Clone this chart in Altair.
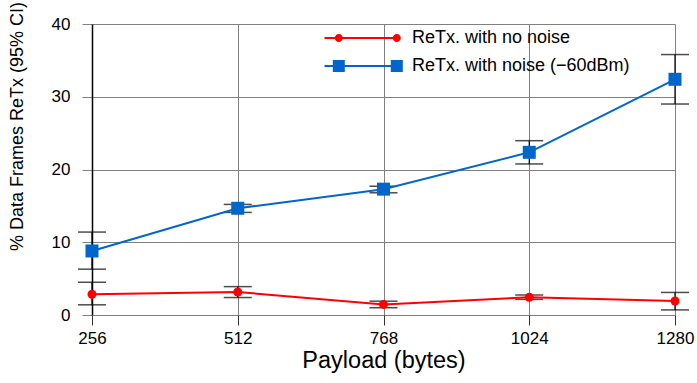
import altair as alt
import pandas as pd

payload = [256, 512, 768, 1024, 1280]
series_names = ["ReTx. with no noise", "ReTx. with noise (\u221260dBm)"]

no_noise = [2.85, 3.16, 1.46, 2.43, 1.92]
no_noise_lo = [1.4, 2.4, 1.0, 2.15, 0.7]
no_noise_hi = [4.5, 3.9, 1.9, 2.75, 3.1]

noise = [8.8, 14.67, 17.3, 22.36, 32.4]
noise_lo = [6.3, 14.1, 16.8, 20.76, 29.0]
noise_hi = [11.4, 15.2, 17.7, 23.96, 35.8]

RED = "#ff0000"
BLUE = "#0066cc"
FONT = "Liberation Sans"

rows = []
for i, p in enumerate(payload):
    rows.append(dict(series=series_names[0], payload=p, mean=no_noise[i], lo=no_noise_lo[i], hi=no_noise_hi[i]))
    rows.append(dict(series=series_names[1], payload=p, mean=noise[i], lo=noise_lo[i], hi=noise_hi[i]))
df = pd.DataFrame(rows)

xs = alt.X("payload:Q", scale=alt.Scale(domain=[256, 1280], nice=False, zero=False),
           axis=alt.Axis(values=payload, format="d", title="Payload (bytes)", grid=True, domain=False,
                         tickSize=10, tickColor="#333333", labelPadding=5, labelFlush=False,
                         titleY=52, titleBaseline="alphabetic", titleFontSize=23.5))
ys = alt.Y("mean:Q", scale=alt.Scale(domain=[0, 40], nice=False),
           axis=alt.Axis(values=[0, 10, 20, 30, 40], title="% Data Frames ReTx (95% CI)",
                         grid=True, domain=True, domainColor="#000000", domainWidth=1.5,
                         tickSize=10, tickColor="#808080", labelPadding=12, labelFlush=False,
                         titleX=-75, titleY=102, titleAngle=270, titleBaseline="middle",
                         titleAlign="center", titleLimit=1000, titleFontSize=18))

base = alt.Chart(df)


def series_layers(name, color, shape, size):
    b = base.transform_filter(alt.datum.series == name)
    line = b.mark_line(color=color, strokeWidth=2).encode(x=xs, y=ys)
    rule = b.mark_rule(color="#000000", strokeWidth=1.2).encode(x="payload:Q", y="lo:Q", y2="hi:Q")
    cap_lo = b.mark_tick(orient="horizontal", size=28, thickness=1.5, color="#000000").encode(x="payload:Q", y="lo:Q")
    cap_hi = b.mark_tick(orient="horizontal", size=28, thickness=1.5, color="#000000").encode(x="payload:Q", y="hi:Q")
    pts = b.mark_point(shape=shape, filled=True, size=size, color=color, opacity=1).encode(x="payload:Q", y="mean:Q")
    return [rule, cap_lo, cap_hi, line, pts]


def circle(cx, r):
    return f"M{cx + r},0A{r},{r} 0 1,1 {cx - r},0A{r},{r} 0 1,1 {cx + r},0Z"


def square(cx, h):
    return f"M{cx - h},{-h}H{cx + h}V{h}H{cx - h}Z"


line_rect = "M-37.5,-1H37.5V1H-37.5Z"
path_red = line_rect + circle(-23.2, 4) + circle(34.8, 4)
path_blue = line_rect + square(-23.2, 6) + square(34.8, 6)

legend_def = alt.Legend(title=None, orient="none", legendX=261, legendY=5,
                        symbolSize=4, labelOffset=41, rowPadding=10, padding=0,
                        labelFontSize=18, labelFont=FONT, labelColor="#000000", labelLimit=1000)

legend_layer = base.transform_filter("false").mark_point(filled=True, opacity=1).encode(
    x="payload:Q", y="mean:Q",
    color=alt.Color("series:N", scale=alt.Scale(domain=series_names, range=[RED, BLUE]), legend=legend_def),
    shape=alt.Shape("series:N", scale=alt.Scale(domain=series_names, range=[path_red, path_blue]), legend=legend_def),
)

layers = series_layers(series_names[0], RED, "circle", 81) + series_layers(series_names[1], BLUE, "square", 169) + [legend_layer]

chart = alt.layer(*layers).properties(
    width=583, height=291,
    autosize=alt.AutoSizeParams(type="none"),
    padding={"left": 92, "top": 24, "right": 22, "bottom": 68},
    background="#ffffff",
).configure_view(stroke=None).configure_axis(
    gridColor="#808080", gridWidth=1, labelFont=FONT, titleFont=FONT,
    labelFontSize=17, labelColor="#000000", titleColor="#000000",
    titleFontWeight="normal",
)

chart.save("out.html", embed_options={"renderer": "svg", "actions": False})
